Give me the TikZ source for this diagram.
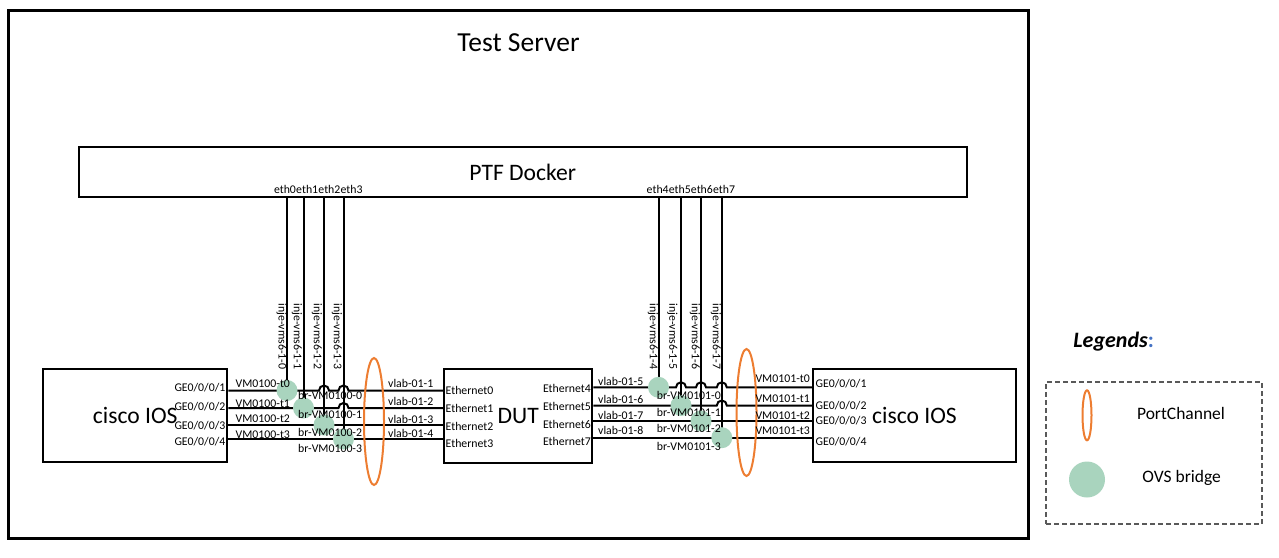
\documentclass[tikz,border=0pt]{standalone}
\usepackage{fontspec}
\setmainfont{Carlito}
\usepackage{xcolor}
\usetikzlibrary{positioning,shapes.geometric,calc}

\definecolor{pcorange}{RGB}{237,125,49}
\definecolor{ovsgreen}{RGB}{169,212,190}
\definecolor{legendblue}{RGB}{68,114,196}
\newcommand{\boxfont}{\fontsize{23.6}{28}\selectfont}
\newcommand{\portfont}{\fontsize{11.8}{14}\selectfont}
\newcommand{\legendfont}{\fontsize{17.5}{21}\selectfont}

\begin{document}
\begin{tikzpicture}[x=1pt, y=-1pt]
    \tikzset{
      frame/.style = {rectangle, draw=black, line width=3pt},
      device/.style = {rectangle, draw=black, line width=2pt, font=\boxfont},
      port/.style = {inner sep=0pt, font=\portfont},
      vport/.style = {port, rotate=-90},
      wire/.style = {line width=2pt},
      bridge/.style = {circle, fill=ovsgreen, minimum size=21pt, inner sep=0pt},
      pchannel/.style = {ellipse, draw=pcorange, line width=2pt, inner sep=0pt}
    }
    \useasboundingbox (0,0) rectangle (1279,557);

    \node (server) [frame, minimum width=1020.5pt, minimum height=528pt] at (518.25,274) {};
    \node (server_title) [font=\fontsize{27.5}{32}\selectfont] at (518.5,43) {Test Server};
    \node (ptf) [device, minimum width=887.7pt, minimum height=50pt] at (522.8,172) {PTF Docker};
    \node (ciscoA) [device, minimum width=184.3pt, minimum height=93.3pt] at (135.2,415.7) {cisco IOS};
    \node (dut) [device, minimum width=148.3pt, minimum height=93.7pt] at (518.2,416) {DUT};
    \node (ciscoB) [device, minimum width=202.4pt, minimum height=92.4pt] at (914.5,415.5) {cisco IOS};

    % bridge positions
    \coordinate (bA0) at (287,390.5);
    \coordinate (bA1) at (303.5,408);
    \coordinate (bA2) at (324,425);
    \coordinate (bA3) at (343.5,439);
    \coordinate (bB0) at (658.5,387.3);
    \coordinate (bB1) at (681,405.5);
    \coordinate (bB2) at (701,421);
    \coordinate (bB3) at (721.8,437.7);

    % ptf ports
    \draw [wire] (ptf.south -| bA0) -- (bA0);
    \draw [wire] (ptf.south -| bA1) -- (bA1);
    \draw [wire] (ptf.south -| bA2) -- (bA2);
    \draw [wire] (ptf.south -| bA3) -- (bA3);
    \draw [wire] (ptf.south -| bB0) -- (bB0);
    \draw [wire] (ptf.south -| bB1) -- (bB1);
    \draw [wire] (ptf.south -| bB2) -- (bB2);
    \draw [wire] (ptf.south -| bB3) -- (bB3);

    % vm links
    \draw [wire] (ciscoA.east |- bA0) -- ($(bA0 -| bA2)+(-5,0)$) arc[start angle=180, end angle=0, radius=5pt]
      -- ($(bA0 -| bA3)+(-5,0)$) arc[start angle=180, end angle=0, radius=5pt] -- (dut.west |- bA0);
    \draw [wire] (ciscoA.east |- bA1) -- ($(bA1 -| bA3)+(-5,0)$) arc[start angle=180, end angle=0, radius=5pt] -- (dut.west |- bA1);
    \draw [wire] (ciscoA.east |- bA2) -- (dut.west |- bA2);
    \draw [wire] (ciscoA.east |- bA3) -- (dut.west |- bA3);
    \draw [wire] (dut.east |- bB0) -- ($(bB0 -| bB1)+(-5,0)$) arc[start angle=180, end angle=0, radius=5pt]
      -- ($(bB0 -| bB2)+(-5,0)$) arc[start angle=180, end angle=0, radius=5pt]
      -- ($(bB0 -| bB3)+(-5,0)$) arc[start angle=180, end angle=0, radius=5pt] -- (ciscoB.west |- bB0);
    \draw [wire] (dut.east |- bB1) -- ($(bB1 -| bB3)+(-5,0)$) arc[start angle=180, end angle=0, radius=5pt] -- (ciscoB.west |- bB1);
    \draw [wire] (dut.east |- bB2) -- (ciscoB.west |- bB2);
    \draw [wire] (dut.east |- bB3) -- (ciscoB.west |- bB3);

    \node (brA0) [bridge] at (bA0) {};
    \node (brA1) [bridge] at (bA1) {};
    \node (brA2) [bridge] at (bA2) {};
    \node (brA3) [bridge] at (bA3) {};
    \node (brB0) [bridge] at (bB0) {};
    \node (brB1) [bridge] at (bB1) {};
    \node (brB2) [bridge] at (bB2) {};
    \node (brB3) [bridge] at (bB3) {};

    \node (pcA) [pchannel, minimum width=20pt, minimum height=127pt] at (374,421.5) {};
    \node (pcB) [pchannel, minimum width=20pt, minimum height=127pt] at (746.5,412.5) {};

    \node (eth0) [port, anchor=base] at (285,193.3) {eth0};
    \node (eth1) [port, anchor=base] at (307.2,193.3) {eth1};
    \node (eth2) [port, anchor=base] at (329.4,193.3) {eth2};
    \node (eth3) [port, anchor=base] at (351.6,193.3) {eth3};
    \node (eth4) [port, anchor=base] at (657.7,193.3) {eth4};
    \node (eth5) [port, anchor=base] at (679.8,193.3) {eth5};
    \node (eth6) [port, anchor=base] at (701.9,193.3) {eth6};
    \node (eth7) [port, anchor=base] at (724,193.3) {eth7};

    \node (veth0) [vport] at (281.7,336.5) {inje-vms6-1-0};
    \node (veth1) [vport] at (297,336.5) {inje-vms6-1-1};
    \node (veth2) [vport] at (317,336.5) {inje-vms6-1-2};
    \node (veth3) [vport] at (337,336.5) {inje-vms6-1-3};
    \node (veth4) [vport] at (653,336.5) {inje-vms6-1-4};
    \node (veth5) [vport] at (672.5,336.5) {inje-vms6-1-5};
    \node (veth6) [vport] at (695,336.5) {inje-vms6-1-6};
    \node (veth7) [vport] at (716,336.5) {inje-vms6-1-7};

    \node (geA1) [port, anchor=east] at (225.5,388) {GE0/0/0/1};
    \node (geA2) [port, anchor=east] at (225.5,407) {GE0/0/0/2};
    \node (geA3) [port, anchor=east] at (225.5,426) {GE0/0/0/3};
    \node (geA4) [port, anchor=east] at (225.5,442) {GE0/0/0/4};
    \node (tapA0) [port, anchor=west] at (235.5,383.5) {VM0100-t0};
    \node (tapA1) [port, anchor=west] at (235.5,404) {VM0100-t1};
    \node (tapA2) [port, anchor=west] at (235.5,419) {VM0100-t2};
    \node (tapA3) [port, anchor=west] at (235.5,435) {VM0100-t3};
    \node (brnA0) [port, anchor=west] at (298,395.5) {br-VM0100-0};
    \node (brnA1) [port, anchor=west] at (298,414.5) {br-VM0100-1};
    \node (brnA2) [port, anchor=west] at (298,432) {br-VM0100-2};
    \node (brnA3) [port, anchor=west] at (298,448) {br-VM0100-3};
    \node (vlab1) [port, anchor=west] at (388,383) {vlab-01-1};
    \node (vlab2) [port, anchor=west] at (388,401.5) {vlab-01-2};
    \node (vlab3) [port, anchor=west] at (388,419.5) {vlab-01-3};
    \node (vlab4) [port, anchor=west] at (388,433.5) {vlab-01-4};

    \node (dut_eth0) [port, anchor=west] at (445.5,390.5) {Ethernet0};
    \node (dut_eth1) [port, anchor=west] at (445.5,408.5) {Ethernet1};
    \node (dut_eth2) [port, anchor=west] at (445.5,426.3) {Ethernet2};
    \node (dut_eth3) [port, anchor=west] at (445.5,443) {Ethernet3};
    \node (dut_eth4) [port, anchor=east] at (591,388.7) {Ethernet4};
    \node (dut_eth5) [port, anchor=east] at (591,406) {Ethernet5};
    \node (dut_eth6) [port, anchor=east] at (591,424) {Ethernet6};
    \node (dut_eth7) [port, anchor=east] at (591,441.7) {Ethernet7};

    \node (vlab5) [port, anchor=west] at (598,381.5) {vlab-01-5};
    \node (vlab6) [port, anchor=west] at (598,399.5) {vlab-01-6};
    \node (vlab7) [port, anchor=west] at (598,415) {vlab-01-7};
    \node (vlab8) [port, anchor=west] at (598,430) {vlab-01-8};
    \node (brnB0) [port, anchor=west] at (656.7,395.5) {br-VM0101-0};
    \node (brnB1) [port, anchor=west] at (656.7,412) {br-VM0101-1};
    \node (brnB2) [port, anchor=west] at (656.7,428.5) {br-VM0101-2};
    \node (brnB3) [port, anchor=west] at (656.7,446) {br-VM0101-3};
    \node (tapB0) [port, anchor=east] at (810,379) {VM0101-t0};
    \node (tapB1) [port, anchor=east] at (810,399) {VM0101-t1};
    \node (tapB2) [port, anchor=east] at (810,415.5) {VM0101-t2};
    \node (tapB3) [port, anchor=east] at (810,431) {VM0101-t3};
    \node (geB1) [port, anchor=west] at (815.5,384) {GE0/0/0/1};
    \node (geB2) [port, anchor=west] at (815.5,405.5) {GE0/0/0/2};
    \node (geB3) [port, anchor=west] at (815.5,421) {GE0/0/0/3};
    \node (geB4) [port, anchor=west] at (815.5,442) {GE0/0/0/4};

    % legend
    \node (legend_title) [inner sep=0pt, font=\fontsize{22}{26}\selectfont] at (1113.7,341.7) {\textbf{\textit{Legends}}\textcolor{legendblue}{\textbf{:}}};
    \node (legend) [rectangle, draw=black!65, dashed, dash pattern=on 5pt off 3pt, line width=1.5pt, minimum width=215.7pt, minimum height=142.3pt] at (1153.9,452.9) {};
    \node (key_pc) [pchannel, minimum width=9pt, minimum height=50pt] at (1087,415.3) {};
    \node (key_br) [bridge, minimum size=36pt] at (1087,479.5) {};
    \node (key_pc_text) [inner sep=0pt, font=\legendfont] at (1181,413.8) {PortChannel};
    \node (key_br_text) [inner sep=0pt, font=\legendfont] at (1181.7,477.8) {OVS bridge};
\end{tikzpicture}
\end{document}
